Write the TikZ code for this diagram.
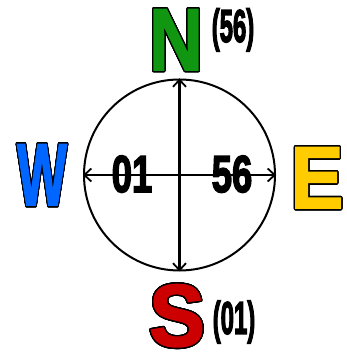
\documentclass[tikz,border=0pt]{standalone}
\usepackage{fontspec}
\setmainfont{Liberation Sans}
\newfontfamily\bigfont[FakeBold=2]{Liberation Sans Bold}
\newfontfamily\numfont[FakeBold=3.5]{Liberation Sans Bold}
\usepackage{contour}
\contourlength{1.4pt}
\contournumber{32}
\usetikzlibrary{arrows.meta}
\definecolor{ncol}{RGB}{16,150,16}
\definecolor{ecol}{RGB}{255,204,0}
\definecolor{scol}{RGB}{204,0,0}
\definecolor{wcol}{RGB}{0,102,255}
\tikzset{
  letter/.style={inner sep=0pt, anchor=base, font=\bigfont\fontsize{88}{88}\selectfont},
  bignum/.style={inner sep=0pt, anchor=base, font=\numfont\fontsize{52}{52}\selectfont},
  smallnum/.style={inner sep=0pt, anchor=center, font=\numfont\fontsize{46}{46}\selectfont},
  axis/.style={line width=2.2pt, {Straight Barb[length=7pt,width=13pt,line width=1.8pt]}-{Straight Barb[length=7pt,width=13pt,line width=1.8pt]}}
}
\begin{document}
\begin{tikzpicture}[x=1pt,y=1pt]
\useasboundingbox (0,0) rectangle (346,352);
\node[circle, draw, line width=2pt, minimum size=191pt, inner sep=0pt] (c) at (179.5,177) {};
\draw[axis] (c.west) -- (c.east);
\draw[axis] (c.north) -- (c.south);
\node[bignum] (n01) at (132,160) {\scalebox{0.7}[1]{01}};
\node[bignum] (n56) at (232,160) {\scalebox{0.7}[1]{56}};
\node[letter] (N) at (176,282) {\textcolor{ncol}{\scalebox{0.85}[1]{\contour{black}{N}}}};
\node[letter] (S) at (177,6) {\textcolor{scol}{\scalebox{0.95}[1]{\contour{black}{S}}}};
\node[letter] (W) at (42,147) {\textcolor{wcol}{\scalebox{0.6}[1]{\contour{black}{W}}}};
\node[letter] (E) at (317,144) {\textcolor{ecol}{\scalebox{0.9}[1]{\contour{black}{E}}}};
\node[smallnum] (p56) at (233,322) {\scalebox{0.52}[1]{(56)}};
\node[smallnum] (p01) at (234,30) {\scalebox{0.52}[1]{(01)}};
\end{tikzpicture}
\end{document}
